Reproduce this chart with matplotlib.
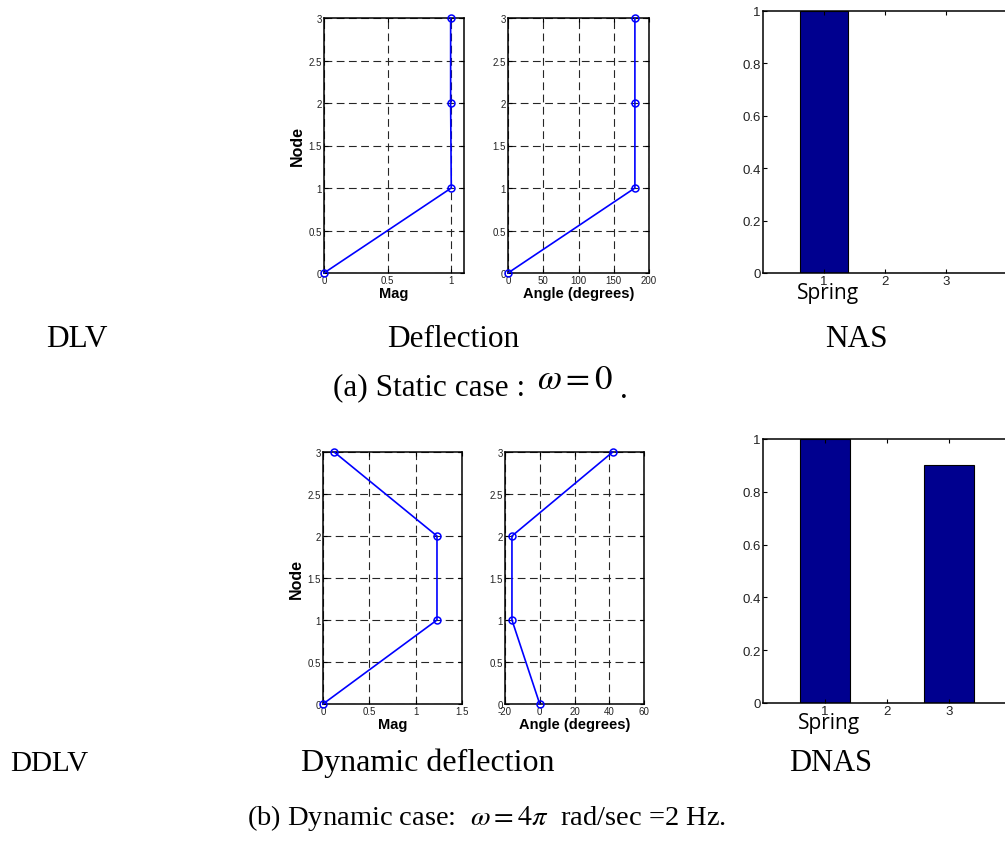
import matplotlib
matplotlib.use("Agg")
import matplotlib.pyplot as plt

# ---------------- data ----------------
node = [0, 1, 2, 3]
static_mag = [0, 1.0, 0.995, 0.995]
static_angle = [0, 180, 180, 180]
dyn_mag = [0, 1.23, 1.23, 0.12]
dyn_angle = [0, -16, -16, 42]
springs = [1, 2, 3]
nas = [1.0, 0.0, 0.0]
dnas = [1.0, 0.0, 0.9]

node_ticks = [0, 0.5, 1, 1.5, 2, 2.5, 3]
node_ticklabels = ["0", "0.5", "1", "1.5", "2", "2.5", "3"]
static_mag_ticks = [0, 0.5, 1]
static_angle_ticks = [0, 50, 100, 150, 200]
dyn_mag_ticks = [0, 0.5, 1, 1.5]
dyn_angle_ticks = [-20, 0, 20, 40, 60]
bar_yticks = [0, 0.2, 0.4, 0.6, 0.8, 1]
bar_yticklabels = ["0", "0.2", "0.4", "0.6", "0.8", "1"]

W, H = 1005, 853
plt.rcParams['mathtext.fontset'] = 'stix'
fig = plt.figure(figsize=(W / 100, H / 100), dpi=100)
fig.patch.set_facecolor('white')


def px_axes(x0, y0, x1, y1):
    return fig.add_axes([x0 / W, 1 - y1 / H, (x1 - x0) / W, (y1 - y0) / H])


def style_axes(ax, labelsize):
    for s in ax.spines.values():
        s.set_linewidth(1.1)
        s.set_color('black')
    ax.tick_params(direction='in', length=3, width=0.8, top=True, right=True,
                   labelsize=labelsize, labelcolor='#222222', pad=1.5)
    for lab in ax.get_xticklabels() + ax.get_yticklabels():
        lab.set_family('Liberation Sans')


def line_panel(ax, x, y, xlim, xticks, xlabel, ylabel=None):
    ax.plot(x, y, color='#0000FF', lw=1.2, marker='o', ms=5, mfc='none',
            mec='#0000FF', mew=1.1, clip_on=False, zorder=3)
    ax.set_xlim(*xlim)
    ax.set_ylim(0, 3)
    ax.set_xticks(xticks)
    ax.set_xticklabels([("%g" % t) for t in xticks])
    ax.set_yticks(node_ticks)
    ax.set_yticklabels(node_ticklabels)
    ax.grid(True, color='0.15', lw=0.8, ls=(0, (7, 4)))
    ax.set_axisbelow(True)
    style_axes(ax, 7)
    ax.set_xlabel(xlabel, fontsize=10.5, fontweight='bold', family='Liberation Sans', labelpad=1)
    if ylabel:
        ax.set_ylabel(ylabel, fontsize=11.5, fontweight='bold', family='Liberation Sans', labelpad=3)


def bar_panel(ax, vals):
    ax.bar(springs, vals, width=0.8, color='#00008F', edgecolor='black', lw=0.8)
    ax.set_xlim(0, 4)
    ax.set_ylim(0, 1)
    ax.set_xticks(springs)
    ax.set_xticklabels([str(s) for s in springs])
    ax.set_yticks(bar_yticks)
    ax.set_yticklabels(bar_yticklabels)
    style_axes(ax, 9.5)
    ax.tick_params(right=False)
    ax.text(1.07, -0.035, "Spring", transform=ax.get_xaxis_transform(), ha='center', va='top',
            fontsize=15, family='Open Sans')


# ---------------- top row ----------------
ax1 = px_axes(324, 19, 464, 274)
line_panel(ax1, static_mag, node, (0, 1.1), static_mag_ticks, "Mag", "Node")
ax2 = px_axes(508, 19, 649, 274)
line_panel(ax2, static_angle, node, (0, 200), static_angle_ticks, "Angle (degrees)")
ax3 = px_axes(763, 12, 1007, 274)
bar_panel(ax3, nas)

# ---------------- bottom row ----------------
ax4 = px_axes(323, 453, 462, 705)
line_panel(ax4, dyn_mag, node, (0, 1.5), dyn_mag_ticks, "Mag", "Node")
ax5 = px_axes(505, 453, 644, 705)
line_panel(ax5, dyn_angle, node, (-20, 60), dyn_angle_ticks, "Angle (degrees)")
ax6 = px_axes(763, 440, 1011, 704)
bar_panel(ax6, dnas)


# ---------------- captions ----------------
def ftext(x, y, s, ha='left', va='baseline', size=22.5, **kw):
    fig.text(x / W, 1 - y / H, s, ha=ha, va=va, fontsize=size,
             family='Liberation Serif', **kw)

ftext(46, 347, "DLV")
ftext(453, 347, "Deflection", ha='center')
ftext(856, 347, "NAS", ha='center')
ftext(333, 395, "(a) Static case : ")
ftext(537, 389, r"$\omega = 0$", size=25)
ftext(620, 398, ".")

ftext(10, 771, "DDLV", size=21)
ftext(428, 771, "Dynamic deflection", ha='center', size=23)
ftext(831, 771, "DNAS", ha='center', size=22)
ftext(247, 825, r"(b) Dynamic case:  $\omega = 4\pi$  rad/sec =2 Hz.", size=20.5)

fig.savefig("out.png", dpi=100, facecolor='white')
